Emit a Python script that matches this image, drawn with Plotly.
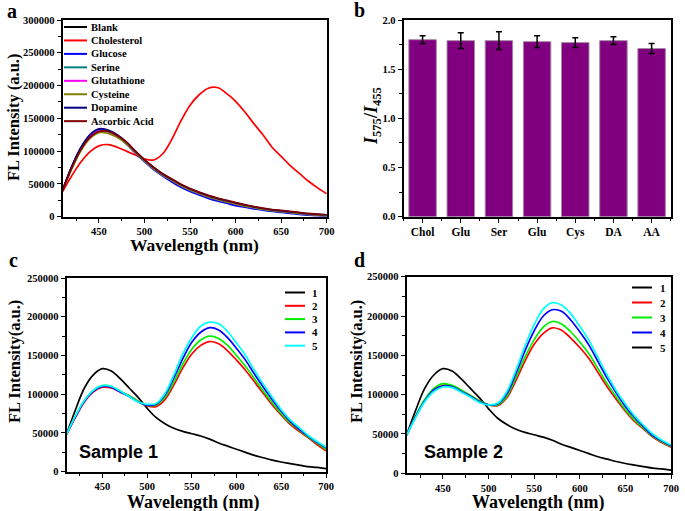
import plotly.graph_objects as go

W, H = 685, 511

# ---------------- data ----------------
WL = [410, 420, 430, 440, 450, 460, 470, 480, 490, 500, 510, 520, 530, 540, 550,
      560, 570, 580, 590, 600, 610, 620, 630, 640, 650, 660, 670, 680, 690, 700]

# panel a
A_NAMES = ["Blank", "Cholesterol", "Glucose", "Serine", "Glutathione", "Cysteine", "Dopamine", "Ascorbic Acid"]
A_BLANK = [40000, 75000, 104000, 123000, 132000, 131000, 124000, 113000, 99000, 86000, 74000, 64000, 56000, 48000, 41500,
           36000, 31000, 27000, 23500, 20000, 17000, 14500, 12000, 10000, 8500, 7000, 5500, 4000, 3000, 2500]
A_CHOL = [38000, 62000, 83000, 99000, 108000, 110000, 106000, 100000, 94000, 88000, 86500, 96000, 118000, 146000, 170000,
          186000, 196000, 197000, 188000, 176000, 160000, 142000, 125000, 106000, 92000, 78000, 66000, 54000, 44000, 35000]
A_GLUC = [40000, 76000, 105000, 124000, 133000, 131000, 123000, 111000, 97000, 84000, 72000, 62000, 53000, 45000, 38500,
          33000, 28000, 24000, 20500, 17000, 14500, 12000, 10000, 8000, 6500, 5000, 3500, 2500, 1500, 1000]
A_SER = [40000, 74000, 103000, 122000, 131000, 130000, 123000, 112000, 98000, 85000, 73000, 63000, 55000, 47000, 40500,
         35000, 30000, 26000, 22500, 19000, 16000, 13500, 11000, 9000, 7500, 6000, 4500, 3500, 2500, 2000]
A_GSH = [40000, 74000, 103000, 122000, 131000, 130000, 123000, 112000, 98500, 85500, 73500, 63500, 55500, 47500, 41000,
         35500, 30500, 26500, 23000, 19500, 16500, 14000, 11500, 9500, 8000, 6500, 5000, 3500, 2500, 2000]
A_CYS = [40000, 72000, 100000, 119000, 128000, 127000, 121000, 111000, 98000, 85000, 73500, 63500, 55500, 47500, 41000,
         35500, 30500, 26500, 23000, 19500, 16500, 14000, 11500, 9500, 8000, 6500, 5000, 3500, 2500, 2000]
A_DA = [40000, 76000, 105000, 125000, 134000, 132000, 125000, 114000, 100000, 86500, 75000, 65000, 57000, 49000, 42500,
        37000, 32000, 28000, 24500, 21000, 18000, 15000, 12500, 10500, 9000, 7500, 6000, 4500, 3500, 3000]
A_AA = [40000, 74000, 102000, 121000, 130000, 130000, 124000, 114000, 100000, 87000, 75500, 65500, 57500, 49500, 43000,
        37500, 32500, 28500, 25000, 21500, 18500, 15500, 13000, 11000, 9500, 8000, 6500, 5000, 4000, 3000]
A_SERIES = [A_BLANK, A_CHOL, A_GLUC, A_SER, A_GSH, A_CYS, A_DA, A_AA]

# panel b
B_LABELS = ["Chol", "Glu", "Ser", "Glu", "Cys", "DA", "AA"]
B_VALUES = [1.80, 1.79, 1.79, 1.78, 1.77, 1.79, 1.71]
B_ERRORS = [0.04, 0.08, 0.09, 0.06, 0.05, 0.04, 0.05]

# panel c (Sample 1)
C_NAMES = ["1", "2", "3", "4", "5"]
C_1 = [48000, 80000, 108000, 125000, 133000, 130000, 120000, 108000, 96000, 82000, 70000, 62000, 56000, 52000, 49000,
       46000, 42000, 37000, 33000, 29000, 25000, 21000, 18000, 15000, 12500, 10500, 8500, 6500, 5500, 4000]
C_2 = [48000, 70000, 90000, 103000, 109000, 108000, 103000, 98000, 91000, 85000, 84000, 93000, 112000, 134000, 152000,
       163000, 168000, 165000, 156000, 144000, 131000, 116000, 101000, 86000, 73000, 61000, 52000, 44000, 35000, 27000]
C_3 = [48000, 72000, 92000, 105000, 111000, 110000, 104000, 98000, 91000, 86000, 86000, 96000, 116000, 139000, 158000,
       170000, 175000, 172000, 163000, 150000, 136000, 120000, 104000, 89000, 75000, 63000, 54000, 45000, 37000, 29000]
C_4 = [48000, 71000, 91000, 104000, 110000, 109000, 103000, 97000, 90000, 86000, 87000, 99000, 121000, 146000, 167000,
       180000, 186000, 183000, 173000, 159000, 144000, 126000, 109000, 93000, 78000, 65000, 55000, 46000, 38000, 31000]
C_5 = [48000, 72000, 92000, 105000, 111000, 110000, 104000, 97000, 90000, 87000, 88000, 101000, 125000, 152000, 173000,
       188000, 193000, 191000, 181000, 166000, 150000, 131000, 113000, 96000, 80000, 67000, 57000, 47000, 39000, 32000]
C_SERIES = [C_1, C_2, C_3, C_4, C_5]

# panel d (Sample 2)
D_NAMES = ["1", "2", "3", "4", "5"]
D_1 = [48000, 80000, 108000, 125000, 133000, 130000, 120000, 108000, 96000, 82000, 70000, 62000, 56000, 52000, 49000,
       46000, 42000, 37000, 33000, 29000, 25000, 21000, 18000, 15000, 12500, 10500, 8500, 6500, 5500, 4000]
D_2 = [48000, 72000, 93000, 106000, 112000, 111000, 105000, 99000, 92000, 87000, 86000, 96000, 118000, 143000, 164000,
       178000, 185000, 182000, 172000, 160000, 146000, 128000, 110000, 94000, 79000, 66000, 56000, 46000, 39000, 33000]
D_3 = [48000, 73000, 94000, 108000, 114000, 112000, 106000, 99000, 92000, 87000, 87000, 98000, 122000, 148000, 170000,
       186000, 193000, 190000, 180000, 167000, 152000, 133000, 114000, 97000, 81000, 68000, 57000, 47000, 40000, 34000]
D_4 = [48000, 72000, 92000, 106000, 111000, 110000, 104000, 98000, 91000, 87000, 88000, 101000, 127000, 156000, 181000,
       200000, 208000, 206000, 195000, 180000, 163000, 142000, 121000, 102000, 85000, 71000, 59000, 48000, 41000, 35000]
D_5 = [48000, 71000, 91000, 104000, 110000, 109000, 103000, 97000, 90000, 87000, 89000, 104000, 131000, 162000, 189000,
       209000, 217000, 214000, 203000, 187000, 169000, 147000, 125000, 105000, 88000, 73000, 61000, 50000, 42000, 36000]
D_SERIES = [D_1, D_2, D_3, D_4, D_5]

# ---------------- styles ----------------
A_COLORS = ["#000000", "#ff0000", "#0000ff", "#008080", "#ff00ff", "#808000", "#000080", "#800000"]
CD_COLORS = ["#000000", "#ff0000", "#00ee00", "#0000ff", "#00ffff"]
D_LEGEND_COLORS = ["#000000", "#ff0000", "#00ee00", "#0000ff", "#000000"]
SERIF = "Liberation Serif"
SANS = "Liberation Sans"


def px(x, y):
    return x / W, 1 - y / H


def dom_x(x0, x1):
    return [x0 / W, x1 / W]


def dom_y(ytop, ybot):
    return [1 - ybot / H, 1 - ytop / H]


fig = go.Figure()

for name, ys, col in zip(A_NAMES, A_SERIES, A_COLORS):
    fig.add_trace(go.Scatter(x=WL, y=ys, name=name, mode="lines", line=dict(color=col, width=1.7, shape="spline"),
                             xaxis="x", yaxis="y", showlegend=False))

fig.add_trace(go.Bar(x=list(range(len(B_VALUES))), y=B_VALUES, width=0.72,
                     marker=dict(color="#800080", line=dict(color="#a58aa5", width=1)),
                     error_y=dict(type="data", array=B_ERRORS, color="black", thickness=1.5, width=3),
                     xaxis="x2", yaxis="y2", showlegend=False))

for name, ys, col in zip(C_NAMES, C_SERIES, CD_COLORS):
    fig.add_trace(go.Scatter(x=WL, y=ys, name=name, mode="lines", line=dict(color=col, width=1.7, shape="spline"),
                             xaxis="x3", yaxis="y3", showlegend=False))

for name, ys, col in zip(D_NAMES, D_SERIES, CD_COLORS):
    fig.add_trace(go.Scatter(x=WL, y=ys, name=name, mode="lines", line=dict(color=col, width=1.7, shape="spline"),
                             xaxis="x4", yaxis="y4", showlegend=False))

tickfont = dict(family=SERIF, size=10.5, color="black", weight="bold")
common = dict(showline=True, mirror=True, linecolor="black", linewidth=1.6, ticks="outside", ticklen=4,
              tickwidth=1.4, tickcolor="black", showgrid=False, zeroline=False, tickfont=tickfont,
              automargin=False)
minor_x = dict(ticks="outside", ticklen=2.5, tickwidth=1.2, tickcolor="black", dtick=25, showgrid=False)


def wl_axis(domain, anchor):
    return dict(common, domain=domain, anchor=anchor, range=[410, 700], dtick=50, tick0=0,
                minor=minor_x)


def fl_axis(domain, anchor, top):
    return dict(common, domain=domain, anchor=anchor, range=[0, top], dtick=50000, tickformat="d",
                minor=dict(ticks="outside", ticklen=2.5, tickwidth=1.2, tickcolor="black", dtick=25000))


layout = dict(
    width=W, height=H, margin=dict(l=0, r=0, t=0, b=0, autoexpand=False),
    paper_bgcolor="white", plot_bgcolor="white", showlegend=False,
    xaxis=wl_axis(dom_x(62.5, 326.7), "y"),
    yaxis=fl_axis(dom_y(20, 216.7), "x", 300000),
    xaxis2=dict(common, domain=dom_x(403.5, 670.7), anchor="y2", range=[-0.5, 6.5],
                tickmode="array", tickvals=list(range(len(B_LABELS))), ticktext=B_LABELS,
                tickfont=dict(family=SERIF, size=11.5, color="black", weight="bold"),
                minor=dict(ticks="outside", ticklen=2.5, tickwidth=1.2, tickcolor="black",
                           tickvals=[i + 0.5 for i in range(-1, len(B_LABELS))])),
    yaxis2=dict(common, domain=dom_y(20, 216.7), anchor="x2", range=[0, 2.0], dtick=0.5, tickformat=".1f",
                minor=dict(ticks="outside", ticklen=2.5, tickwidth=1.2, tickcolor="black", dtick=0.25)),
    xaxis3=wl_axis(dom_x(66.5, 326), "y3"),
    yaxis3=fl_axis(dom_y(278, 471.7), "x3", 250000),
    xaxis4=wl_axis(dom_x(406.5, 671), "y4"),
    yaxis4=fl_axis(dom_y(276.7, 473.3), "x4", 250000),
)
fig.update_layout(**layout)

ann = []
shapes = []


def text(x, y, s, size, family=SERIF, angle=0, xanchor="center", weight="bold"):
    xp, yp = px(x, y)
    ann.append(dict(x=xp, y=yp, xref="paper", yref="paper", text=s, showarrow=False, textangle=angle,
                    xanchor=xanchor, yanchor="middle",
                    font=dict(family=family, size=size, color="black", weight=weight)))


# panel letters
text(12, 11, "a", 20)
text(359, 10, "b", 20)
text(13, 260, "c", 20)
text(359, 260, "d", 20)

# axis titles
text(13, 118, "FL Intensity (a.u.)", 16.5, angle=-90)
text(194, 245, "Wavelength (nm)", 17.5)
text(372, 116, "<i>I</i><sub>575</sub>/<i>I</i><sub>455</sub>", 18, angle=-90)
text(14, 362, "FL Intensity(a.u.)", 16.5, angle=-90)
text(193, 502, "Wavelength (nm)", 18)
text(356, 362, "FL Intensity(a.u.)", 16.5, angle=-90)
text(538, 502, "Wavelength (nm)", 18)

text(77, 452, "Sample 1", 18, family=SANS, xanchor="left")
text(422, 452, "Sample 2", 18, family=SANS, xanchor="left")


def legend(x0, x1, xt, y0, dy, names, colors, size):
    for i, (n, c) in enumerate(zip(names, colors)):
        y = y0 + i * dy
        a, b = px(x0, y)
        c2, _ = px(x1, y)
        shapes.append(dict(type="line", xref="paper", yref="paper", x0=a, x1=c2, y0=b, y1=b,
                           line=dict(color=c, width=2)))
        text(xt, y, n, size, xanchor="left")


legend(64, 87, 89, 27, 13.45, A_NAMES, A_COLORS, 10.5)
legend(285, 305, 310, 292.5, 13.3, C_NAMES, CD_COLORS, 11)
legend(632, 652, 658, 287.5, 15, D_NAMES, D_LEGEND_COLORS, 11)

fig.update_layout(annotations=ann, shapes=shapes)
fig.write_html("out.html", config={"displayModeBar": False},
               post_script="document.body.style.margin='0';document.body.style.overflow='hidden';")
